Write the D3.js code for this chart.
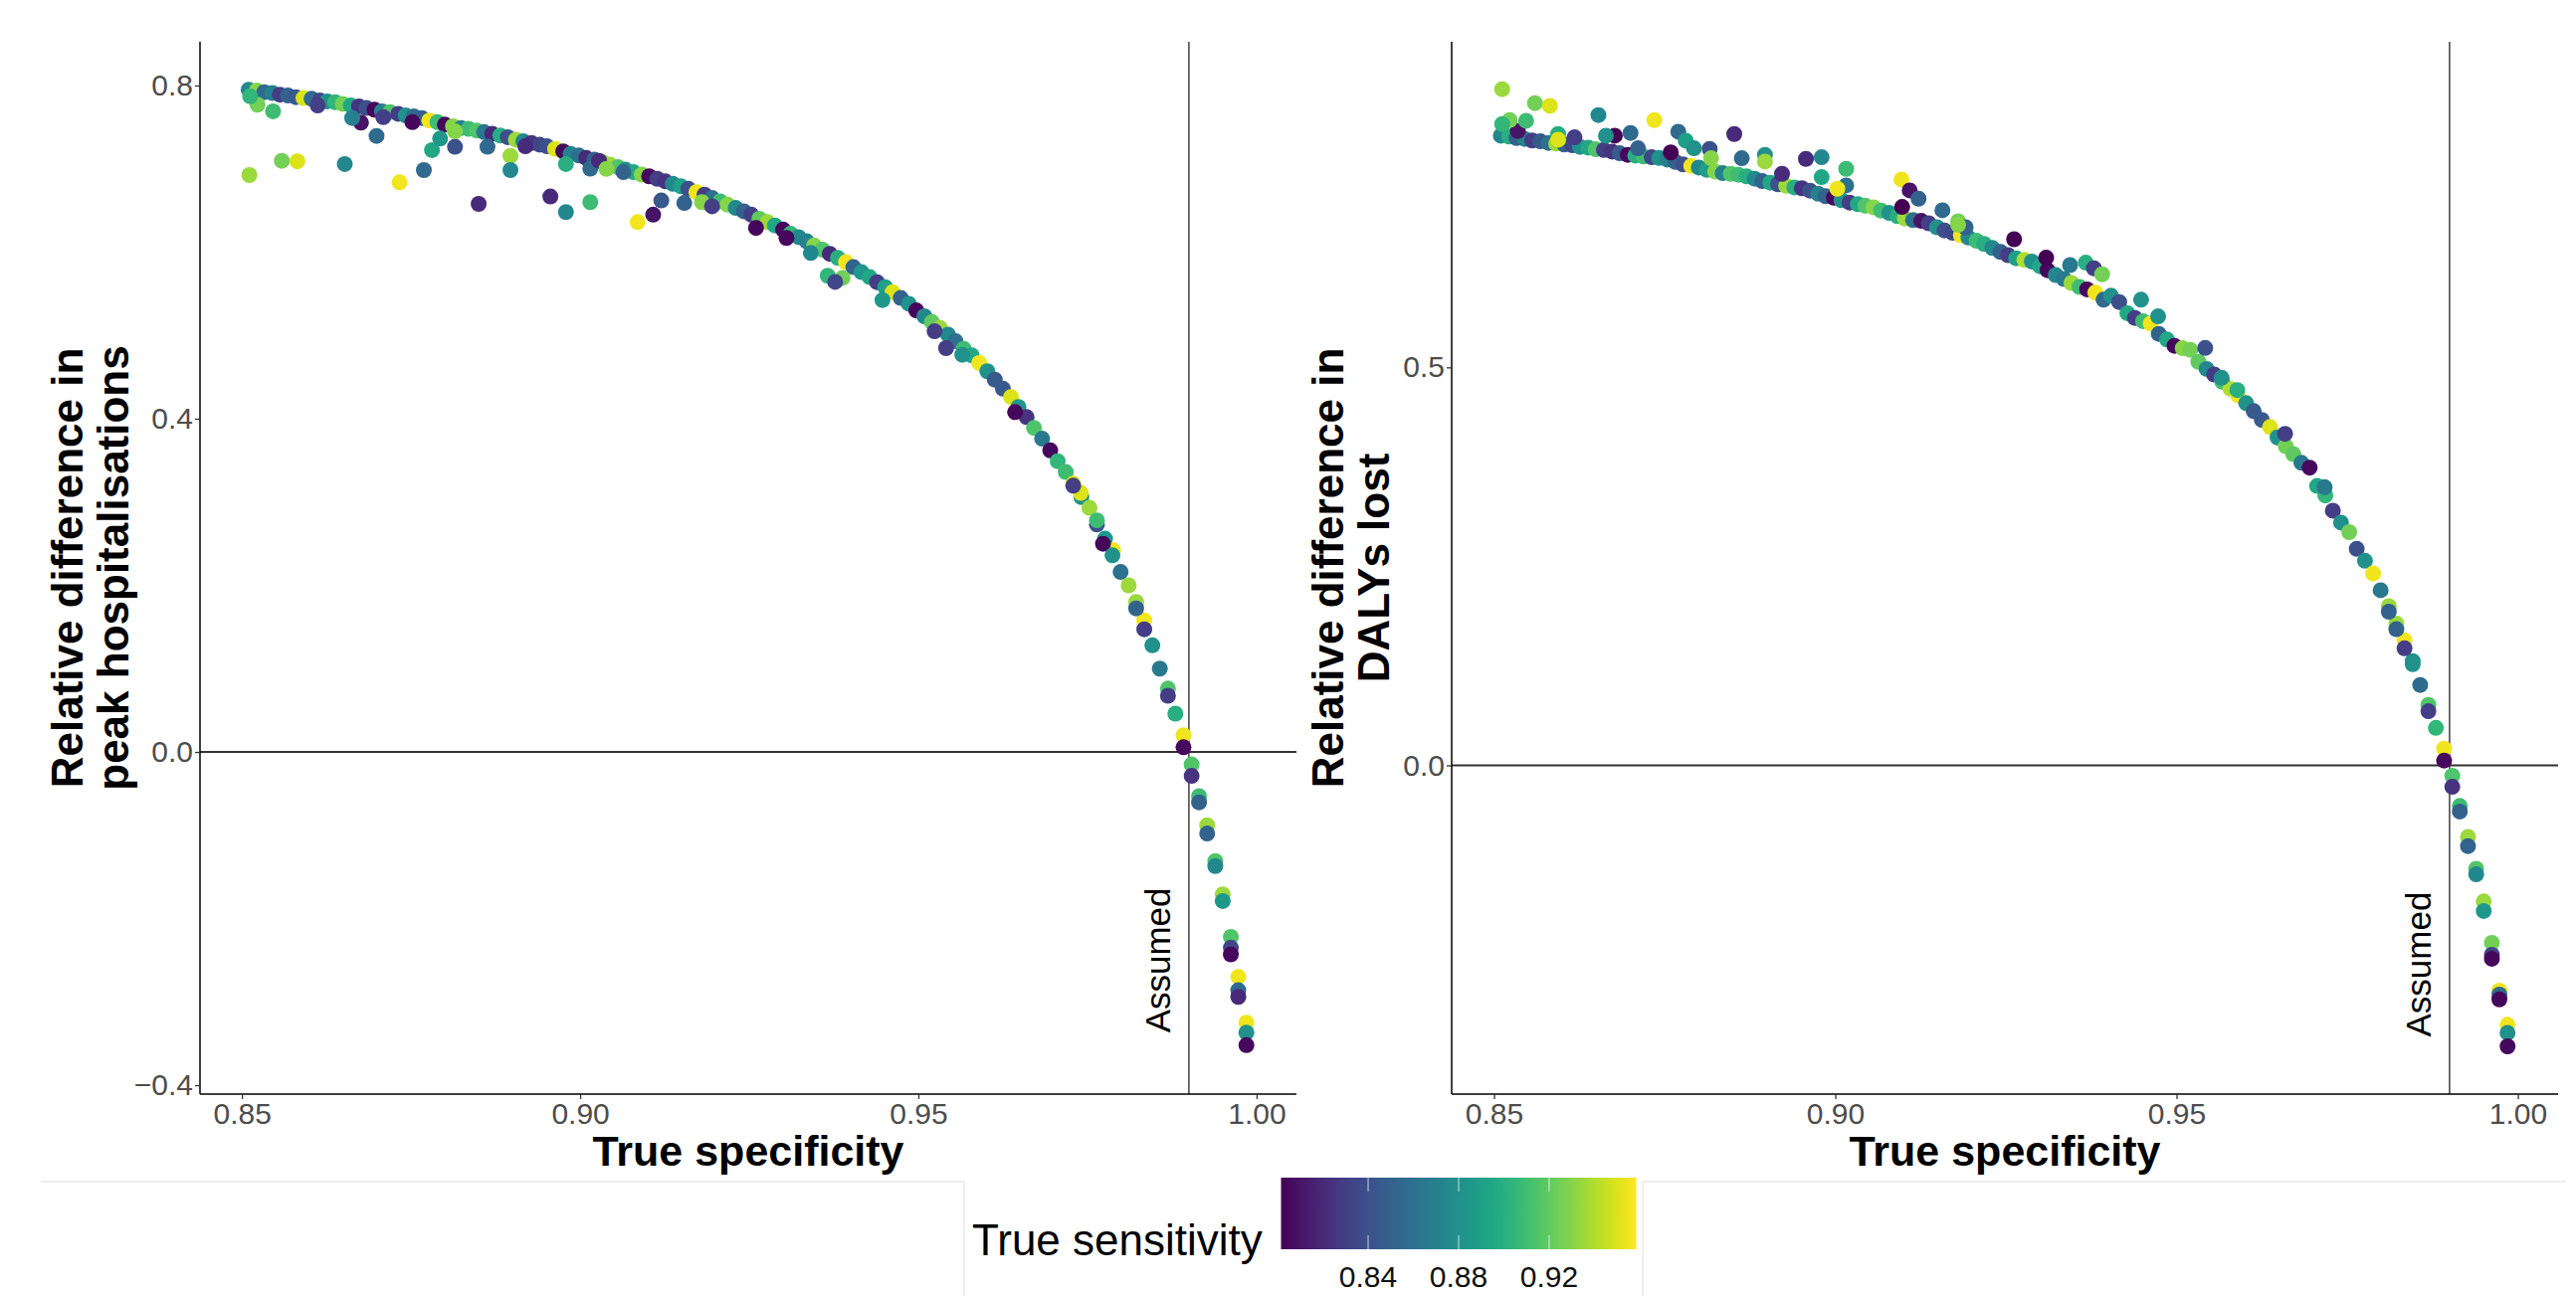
<!DOCTYPE html>
<html>
<head>
<meta charset="utf-8">
<script src="https://cdn.jsdelivr.net/npm/d3@7"></script>
<style>
  body { margin: 0; background: #fff; }
  svg { display: block; font-family: "Liberation Sans", Arial, sans-serif; }
</style>
</head>
<body>
<svg width="2589" height="1303"></svg>
<script>
// specificity values used along the x axis
var specGrid = [0.8510,0.8522,0.8533,0.8545,0.8556,0.8568,0.8580,0.8591,0.8603,0.8615,
  0.8626,0.8638,0.8649,0.8661,0.8673,0.8684,0.8696,0.8707,0.8719,0.8731,
  0.8742,0.8754,0.8766,0.8777,0.8789,0.8800,0.8812,0.8824,0.8835,0.8847,
  0.8858,0.8870,0.8882,0.8893,0.8905,0.8916,0.8928,0.8940,0.8951,0.8963,
  0.8975,0.8986,0.8998,0.9009,0.9021,0.9033,0.9044,0.9056,0.9067,0.9079,
  0.9091,0.9102,0.9114,0.9126,0.9137,0.9149,0.9160,0.9172,0.9184,0.9195,
  0.9207,0.9218,0.9230,0.9242,0.9253,0.9265,0.9277,0.9288,0.9300,0.9311,
  0.9323,0.9335,0.9346,0.9358,0.9369,0.9381,0.9393,0.9404,0.9416,0.9428,
  0.9439,0.9451,0.9462,0.9474,0.9486,0.9497,0.9509,0.9520,0.9532,0.9544,
  0.9555,0.9567,0.9579,0.9590,0.9602,0.9613,0.9625,0.9637,0.9648,0.9660,
  0.9671,0.9683,0.9695,0.9706,0.9718,0.9729,0.9741,0.9753,0.9764,0.9776,
  0.9788,0.9799,0.9811,0.9822,0.9834,0.9846,0.9857,0.9869,0.9880,0.9892,
  0.9904,0.9915,0.9927,0.9939,0.9950,0.9962,0.9973,0.9985]

// relative difference in peak hospitalisations, main band
var hospMain = [0.795,0.794,0.792,0.791,0.789,0.788,0.786,0.785,0.784,0.782,
  0.781,0.780,0.778,0.776,0.775,0.773,0.771,0.769,0.768,0.766,
  0.764,0.763,0.761,0.758,0.756,0.753,0.751,0.749,0.748,0.746,
  0.744,0.742,0.740,0.738,0.735,0.733,0.731,0.729,0.727,0.724,
  0.721,0.718,0.716,0.713,0.711,0.708,0.705,0.702,0.699,0.696,
  0.693,0.691,0.688,0.685,0.682,0.679,0.676,0.672,0.669,0.665,
  0.661,0.657,0.653,0.649,0.645,0.640,0.636,0.632,0.627,0.622,
  0.618,0.613,0.608,0.603,0.598,0.593,0.588,0.582,0.576,0.570,
  0.564,0.558,0.552,0.545,0.538,0.530,0.523,0.516,0.509,0.501,
  0.493,0.484,0.476,0.467,0.457,0.447,0.436,0.426,0.414,0.402,
  0.389,0.376,0.362,0.349,0.336,0.322,0.306,0.293,0.273,0.256,
  0.242,0.216,0.200,0.180,0.158,0.128,0.100,0.076,0.046,0.020,
  -0.015,-0.053,-0.088,-0.131,-0.171,-0.222,-0.270,-0.325]

var hospSens = [0.875,0.93,0.855,0.87,0.83,0.85,0.845,0.95,0.855,0.835,
  0.88,0.905,0.925,0.895,0.825,0.84,0.805,0.87,0.915,0.83,
  0.88,0.855,0.85,0.955,0.91,0.805,0.93,0.87,0.91,0.915,
  0.865,0.82,0.9,0.84,0.935,0.875,0.825,0.835,0.84,0.95,
  0.805,0.87,0.86,0.82,0.85,0.93,0.935,0.915,0.88,0.895,
  0.93,0.805,0.83,0.825,0.875,0.89,0.84,0.955,0.83,0.86,
  0.91,0.93,0.875,0.85,0.83,0.92,0.935,0.895,0.805,0.905,
  0.875,0.87,0.93,0.915,0.82,0.9,0.955,0.85,0.885,0.895,
  0.83,0.89,0.95,0.85,0.88,0.805,0.875,0.92,0.935,0.875,
  0.86,0.91,0.895,0.955,0.88,0.845,0.845,0.95,0.885,0.825,
  0.915,0.865,0.805,0.905,0.91,0.95,0.88,0.935,0.84,0.885,
  0.955,0.86,0.935,0.935,0.955,0.88,0.865,0.915,0.9,0.955,
  0.915,0.91,0.935,0.915,0.935,0.915,0.955,0.955]

// [specificity, value, sensitivity] points off the main band
var hospExtra = [
  [0.8511,0.6925,0.935],[0.8523,0.777,0.925],[0.8546,0.769,0.91],[0.8512,0.787,0.905],
  [0.8559,0.7096,0.925],[0.8582,0.709,0.95],[0.8652,0.7057,0.875],[0.8676,0.7554,0.81],
  [0.8663,0.761,0.87],[0.8699,0.7395,0.855],[0.8733,0.6838,0.955],[0.8769,0.6985,0.855],
  [0.8781,0.7224,0.895],[0.8793,0.7363,0.885],[0.8815,0.7264,0.84],[0.8815,0.745,0.93],
  [0.8850,0.6579,0.82],[0.8863,0.7264,0.855],[0.8897,0.7156,0.935],[0.8897,0.6985,0.875],
  [0.8956,0.6667,0.82],[0.8979,0.648,0.875],[0.8979,0.7057,0.9],[0.9015,0.66,0.91],
  [0.9015,0.7003,0.855],[0.9085,0.636,0.955],[0.9108,0.645,0.81],[0.9120,0.662,0.845],
  [0.9154,0.659,0.85],[0.9028,0.7096,0.82],[0.8752,0.756,0.805],[0.8709,0.762,0.83],
  [0.8612,0.776,0.83],[0.8919,0.727,0.82],[0.9039,0.700,0.93],[0.9064,0.696,0.85],
  [0.9180,0.660,0.93],[0.9195,0.655,0.83],
  [0.9260,0.629,0.805],[0.9305,0.617,0.805],[0.9341,0.599,0.875],[0.9366,0.5716,0.905],
  [0.9388,0.569,0.925],[0.9377,0.5643,0.835],[0.9447,0.5425,0.885],[0.9541,0.4848,0.83],
  [0.9565,0.4768,0.88],[0.9524,0.505,0.83],[0.9643,0.408,0.805],[0.9773,0.250,0.805],
  [0.9787,0.236,0.88],[0.9740,0.311,0.95],[0.9764,0.278,0.91],[0.9729,0.3196,0.83],
  [0.9822,0.1723,0.85],[0.9834,0.1473,0.83],[0.9869,0.0675,0.83],[0.9892,0.0056,0.805],
  [0.9904,-0.0287,0.825],[0.9915,-0.0605,0.85],[0.9927,-0.098,0.85],[0.9939,-0.137,0.875],
  [0.9950,-0.179,0.885],[0.9962,-0.235,0.835],[0.9962,-0.243,0.805],[0.9973,-0.286,0.855],
  [0.9973,-0.294,0.82],[0.9985,-0.337,0.88],[0.9985,-0.352,0.805]
]

// relative difference in DALYs lost, main band
var dalyMain = [0.791,0.790,0.788,0.787,0.785,0.784,0.782,0.781,0.780,0.779,
  0.777,0.776,0.774,0.773,0.771,0.769,0.767,0.766,0.765,0.764,
  0.763,0.761,0.758,0.755,0.753,0.751,0.748,0.746,0.744,0.743,
  0.742,0.740,0.737,0.734,0.732,0.730,0.728,0.726,0.725,0.722,
  0.718,0.715,0.713,0.710,0.707,0.705,0.703,0.701,0.697,0.694,
  0.690,0.687,0.685,0.684,0.681,0.676,0.672,0.669,0.666,0.663,
  0.659,0.655,0.650,0.645,0.641,0.637,0.635,0.633,0.627,0.622,
  0.616,0.611,0.606,0.601,0.598,0.594,0.585,0.590,0.582,0.568,
  0.562,0.558,0.555,0.542,0.535,0.527,0.524,0.522,0.507,0.498,
  0.491,0.482,0.473,0.465,0.455,0.445,0.434,0.425,0.412,0.401,
  0.391,0.380,0.374,0.351,0.339,0.320,0.305,0.293,0.272,0.257,
  0.241,0.220,0.200,0.178,0.157,0.131,0.101,0.076,0.047,0.021,
  -0.013,-0.051,-0.090,-0.130,-0.171,-0.223,-0.283,-0.326]

var dalySens = [0.875,0.9,0.85,0.87,0.83,0.845,0.86,0.935,0.85,0.835,
  0.88,0.895,0.915,0.83,0.825,0.845,0.805,0.9,0.91,0.835,
  0.88,0.87,0.85,0.84,0.955,0.875,0.89,0.93,0.87,0.915,
  0.91,0.9,0.875,0.85,0.895,0.84,0.935,0.9,0.825,0.84,
  0.87,0.85,0.805,0.88,0.83,0.895,0.915,0.93,0.91,0.88,
  0.9,0.935,0.86,0.81,0.83,0.88,0.84,0.835,0.955,0.875,
  0.91,0.9,0.875,0.85,0.83,0.89,0.94,0.88,0.895,0.805,
  0.875,0.865,0.935,0.91,0.805,0.955,0.855,0.88,0.84,0.895,
  0.83,0.91,0.955,0.85,0.895,0.805,0.93,0.925,0.92,0.875,
  0.83,0.91,0.94,0.955,0.88,0.845,0.845,0.95,0.88,0.925,
  0.92,0.865,0.805,0.895,0.905,0.83,0.88,0.925,0.84,0.88,
  0.955,0.865,0.935,0.935,0.955,0.88,0.855,0.915,0.905,0.955,
  0.915,0.91,0.935,0.915,0.935,0.925,0.955,0.955]

var dalyExtra = [
  [0.8512,0.8494,0.935],[0.8560,0.8319,0.925],[0.8582,0.8285,0.95],[0.8653,0.8169,0.875],
  [0.8735,0.8106,0.955],[0.8700,0.7944,0.855],[0.8770,0.796,0.855],[0.8852,0.7931,0.82],
  [0.8781,0.7848,0.89],[0.8793,0.7752,0.88],[0.8816,0.7744,0.84],[0.8863,0.7627,0.855],
  [0.8897,0.7669,0.88],[0.8897,0.7585,0.935],[0.8957,0.7619,0.82],[0.8980,0.7640,0.875],
  [0.9016,0.7494,0.91],[0.8980,0.739,0.895],[0.9016,0.7285,0.86],[0.9003,0.7244,0.955],
  [0.9097,0.736,0.955],[0.9109,0.7223,0.81],[0.9122,0.7119,0.85],[0.9098,0.7015,0.80],
  [0.9157,0.6973,0.855],[0.9180,0.6835,0.925],[0.8922,0.7431,0.82],[0.8677,0.791,0.80],
  [0.8664,0.791,0.88],[0.8535,0.797,0.81],[0.8547,0.8098,0.91],[0.8523,0.8106,0.925],
  [0.8512,0.8056,0.905],[0.8594,0.7931,0.9],[0.8618,0.789,0.83],[0.8759,0.770,0.80],
  [0.8711,0.7752,0.85],[0.8818,0.7627,0.93],[0.8594,0.786,0.95],[0.9191,0.676,0.85],
  [0.9180,0.679,0.93],
  [0.9262,0.661,0.80],[0.9309,0.6377,0.80],[0.9344,0.6285,0.865],[0.9367,0.6315,0.9],
  [0.9379,0.6244,0.83],[0.9391,0.6169,0.925],[0.9448,0.585,0.88],[0.9473,0.564,0.88],
  [0.9542,0.5244,0.84],[0.9566,0.4869,0.88],[0.9589,0.4715,0.9],[0.9659,0.4165,0.83],
  [0.9717,0.3494,0.865],
  [0.9811,0.193,0.85],[0.9822,0.171,0.85],[0.9834,0.147,0.83],[0.9846,0.127,0.88],
  [0.9869,0.068,0.83],[0.9892,0.006,0.805],[0.9904,-0.027,0.825],[0.9915,-0.058,0.85],
  [0.9927,-0.1015,0.85],[0.9939,-0.137,0.875],[0.9950,-0.183,0.885],[0.9962,-0.238,0.835],
  [0.9962,-0.243,0.805],[0.9973,-0.288,0.855],[0.9973,-0.294,0.805],[0.9985,-0.336,0.88],
  [0.9985,-0.353,0.805]
]

var xTicks = [0.85, 0.90, 0.95, 1.00]
var hospTicks = [-0.4, 0.0, 0.4, 0.8]
var dalyTicks = [0.0, 0.5]
var sensTicks = [0.84, 0.88, 0.92]
var assumedSpec = 0.99

var svg = d3.select("svg")
var font = '"Liberation Sans", Arial, sans-serif'

var cScale = d3.scaleSequential(d3.interpolateViridis).domain([0.8015, 0.9585])

var makePoints = function(main, sens, extra)
{
    var pts = main.map(function(v, i){ return {s: specGrid[i], v: v, c: sens[i]} })
    extra.forEach(function(e){ pts.push({s: e[0], v: e[1], c: e[2]}) })
    return pts
}

var drawPanel = function(opt)
{
    var xScale = d3.scaleLinear().domain([0.8438, 1.0059]).range([opt.left, opt.right])
    var yScale = d3.scaleLinear().domain(opt.ydomain).range([1100, 42])

    var g = svg.append("g")

    // reference lines
    g.append("line")
        .attr("x1", opt.left).attr("x2", opt.right)
        .attr("y1", yScale(0)).attr("y2", yScale(0))
        .attr("stroke", "#333").attr("stroke-width", 1.8)
    g.append("line")
        .attr("x1", xScale(assumedSpec)).attr("x2", xScale(assumedSpec))
        .attr("y1", 42).attr("y2", 1100)
        .attr("stroke", "#222").attr("stroke-width", 1.3)

    g.append("g")
        .selectAll("circle")
        .data(opt.points)
        .enter()
        .append("circle")
        .attr("cx", function(d){ return xScale(d.s) })
        .attr("cy", function(d){ return yScale(d.v) })
        .attr("r", 8)
        .attr("fill", function(d){ return cScale(d.c) })

    g.append("text")
        .attr("transform", "translate(" + (xScale(assumedSpec) - 19) + "," + yScale(-0.25) + ")rotate(-90)")
        .attr("text-anchor", "middle")
        .style("font-size", "35px")
        .attr("fill", "#000")
        .text("Assumed")

    var xAxis = d3.axisBottom(xScale).tickValues(xTicks).tickFormat(d3.format(".2f"))
        .tickSize(5).tickSizeOuter(0).tickPadding(4)
    var yAxis = d3.axisLeft(yScale).tickValues(opt.yticks).tickFormat(d3.format(".1f"))
        .tickSize(5).tickSizeOuter(0).tickPadding(2)

    var xa = g.append("g").attr("transform", "translate(0,1100)").call(xAxis)
    var ya = g.append("g").attr("transform", "translate(" + opt.left + ",0)").call(yAxis)
    ;[xa, ya].forEach(function(a){
        a.select(".domain").attr("stroke", "#000").attr("stroke-width", 1.5)
        a.selectAll(".tick line").attr("stroke", "#333").attr("stroke-width", 1.3)
        a.selectAll(".tick text").attr("fill", "#4d4d4d")
            .style("font-size", "30px").style("font-family", font)
    })
    ya.select(".domain").attr("d", "M0,42V1100")
    xa.select(".domain").attr("d", "M" + opt.left + ",0H" + opt.right)

    g.append("text")
        .attr("x", (opt.left + opt.right) / 2)
        .attr("y", 1172)
        .attr("text-anchor", "middle")
        .style("font-size", "43px").style("font-weight", "bold")
        .text("True specificity")

    var yt = g.append("text")
        .attr("transform", "translate(" + opt.titleX + ",571)rotate(-90)")
        .attr("text-anchor", "middle")
        .style("font-size", "44px").style("font-weight", "bold")
    yt.append("tspan").attr("x", 0).attr("y", 0).text(opt.title[0])
    yt.append("tspan").attr("x", 0).attr("y", 46).text(opt.title[1])
}

drawPanel({left: 201, right: 1303, ydomain: [-0.4107, 0.8525], yticks: hospTicks,
    points: makePoints(hospMain, hospSens, hospExtra), titleX: 83,
    title: ["Relative difference in", "peak hospitalisations"]})

drawPanel({left: 1459, right: 2571, ydomain: [-0.413, 0.909], yticks: dalyTicks,
    points: makePoints(dalyMain, dalySens, dalyExtra), titleX: 1350,
    title: ["Relative difference in", "DALYs lost"]})

// bottom legend row
var boxes = svg.append("g").attr("stroke", "#e8e8e8").attr("stroke-width", 1.5)
boxes.append("line").attr("x1", 41).attr("x2", 969).attr("y1", 1188).attr("y2", 1188)
boxes.append("line").attr("x1", 969).attr("x2", 969).attr("y1", 1188).attr("y2", 1303)
boxes.append("line").attr("x1", 1651).attr("x2", 2579).attr("y1", 1188).attr("y2", 1188)
boxes.append("line").attr("x1", 1651).attr("x2", 1651).attr("y1", 1188).attr("y2", 1303)

var barX = d3.scaleLinear().domain(cScale.domain()).range([1287.5, 1644.5])
var grad = svg.append("defs").append("linearGradient").attr("id", "vir")
d3.range(0, 1.0001, 0.05).forEach(function(t){
    grad.append("stop").attr("offset", (t * 100) + "%").attr("stop-color", d3.interpolateViridis(t))
})
svg.append("rect")
    .attr("x", 1287.5).attr("y", 1184).attr("width", 357).attr("height", 72)
    .attr("fill", "url(#vir)")

var bar = svg.append("g")
sensTicks.forEach(function(t){
    bar.append("line").attr("x1", barX(t)).attr("x2", barX(t)).attr("y1", 1184).attr("y2", 1198)
        .attr("stroke", "#fff").attr("stroke-opacity", 0.6).attr("stroke-width", 1.2)
    bar.append("line").attr("x1", barX(t)).attr("x2", barX(t)).attr("y1", 1242).attr("y2", 1256)
        .attr("stroke", "#fff").attr("stroke-opacity", 0.6).attr("stroke-width", 1.2)
    bar.append("text").attr("x", barX(t)).attr("y", 1294)
        .attr("text-anchor", "middle").style("font-size", "30px").attr("fill", "#111")
        .text(d3.format(".2f")(t))
})

svg.append("text")
    .attr("x", 977).attr("y", 1262)
    .style("font-size", "44px").attr("fill", "#000")
    .text("True sensitivity")
</script>
</body>
</html>
